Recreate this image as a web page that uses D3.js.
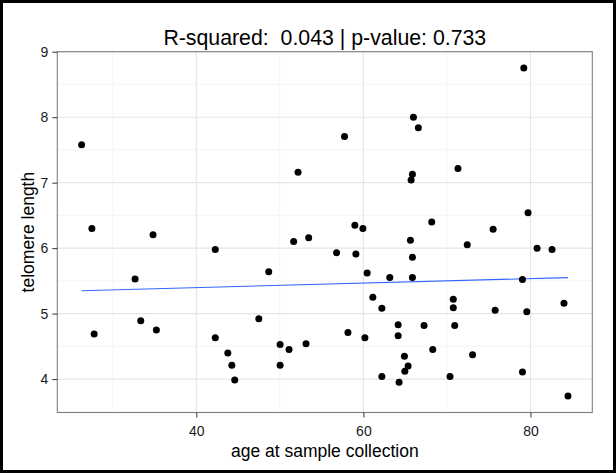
<!DOCTYPE html>
<html>
<head>
<meta charset="utf-8">
<script src="https://cdn.jsdelivr.net/npm/d3@7"></script>
<style>
  html, body { margin: 0; padding: 0; background: #fff; }
  svg { display: block; }
  text { font-family: "Liberation Sans", Arial, sans-serif; }
</style>
</head>
<body>
<svg id="chart" width="616" height="473"></svg>
<script>
// ---- data ----
const ages = [26.27, 27.5, 27.77, 32.67, 33.35, 34.82, 35.22, 42.27, 42.27, 43.77, 44.25, 44.6,
  48.67, 47.48, 50.03, 51.1, 50.03, 51.65, 52.18, 53.45, 53.13, 56.79, 57.74, 58.15, 58.98, 59.1,
  59.94, 60.18, 60.45, 61.13, 62.21, 62.21, 63.16, 64.16, 64.16, 64.27, 64.91, 65.35, 64.96, 65.63,
  65.87, 65.87, 65.99, 66.58, 65.87, 65.71, 68.18, 67.26, 68.3, 79.2, 71.32, 75.53, 72.43, 79.71,
  80.79, 82.58, 79.04, 70.76, 70.76, 70.93, 75.77, 79.56, 84.01, 73.07, 70.37, 79.04, 84.49];
const telomere = [7.58, 6.30, 4.69, 5.53, 4.89, 6.205, 4.75, 5.98, 4.63, 4.40, 4.21, 3.985,
  5.64, 4.92, 4.53, 4.45, 4.21, 6.10, 7.16, 6.16, 4.54, 5.93, 7.705, 4.71, 6.35, 5.91,
  6.30, 4.63, 5.62, 5.25, 5.08, 4.04, 5.55, 4.83, 4.66, 3.95, 4.35, 4.20, 4.12, 6.12,
  5.86, 5.55, 8.0, 7.84, 7.13, 7.04, 6.40, 4.82, 4.45, 8.75, 7.215, 6.29, 6.05, 6.54,
  6.0, 5.98, 5.52, 5.22, 5.09, 4.82, 5.05, 5.03, 5.16, 4.37, 4.04, 4.11, 3.74];
const fitAge = [26.27, 84.49];
const fitTelomere = [5.35, 5.55];
const xTicks = [40, 60, 80];
const xMinorTicks = [30, 50, 70];
const yTicks = [4, 5, 6, 7, 8, 9];
const yMinorTicks = [3.5, 4.5, 5.5, 6.5, 7.5, 8.5];
const titleText = "R-squared:  0.043 | p-value: 0.733";
const xLabel = "age at sample collection";
const yLabel = "telomere length";

// ---- layout ----
const W = 616, H = 473;
const panel = { left: 57.3, right: 592.3, top: 51.7, bottom: 412.5 };

const svg = d3.select("#chart");

function expand(ext, f) {
  const d = (ext[1] - ext[0]) * f;
  return [ext[0] - d, ext[1] + d];
}

const x = d3.scaleLinear().domain(expand(d3.extent(ages), 0.05)).range([panel.left, panel.right]);
const y = d3.scaleLinear().domain(expand(d3.extent(telomere), 0.05)).range([panel.bottom, panel.top]);

// background
svg.append("rect").attr("x", 0).attr("y", 0).attr("width", W).attr("height", H).attr("fill", "#fff");

const g = svg.append("g");

// minor grid
g.selectAll("line.xminor").data(xMinorTicks).enter().append("line")
  .attr("x1", d => x(d)).attr("x2", d => x(d))
  .attr("y1", panel.top).attr("y2", panel.bottom)
  .attr("stroke", "#f5f5f5").attr("stroke-width", 1);
g.selectAll("line.yminor").data(yMinorTicks.filter(v => y(v) <= panel.bottom + 0.5)).enter().append("line")
  .attr("x1", panel.left).attr("x2", panel.right)
  .attr("y1", d => y(d)).attr("y2", d => y(d))
  .attr("stroke", "#f5f5f5").attr("stroke-width", 1);

// major grid
g.selectAll("line.xmajor").data(xTicks).enter().append("line")
  .attr("x1", d => x(d)).attr("x2", d => x(d))
  .attr("y1", panel.top).attr("y2", panel.bottom)
  .attr("stroke", "#e5e5e5").attr("stroke-width", 1.1);
g.selectAll("line.ymajor").data(yTicks).enter().append("line")
  .attr("x1", panel.left).attr("x2", panel.right)
  .attr("y1", d => y(d)).attr("y2", d => y(d))
  .attr("stroke", "#e5e5e5").attr("stroke-width", 1.1);

// fit line
const fit = fitAge.map((a, i) => [a, fitTelomere[i]]);
g.append("path")
  .datum(fit)
  .attr("d", d3.line().x(d => x(d[0])).y(d => y(d[1])))
  .attr("fill", "none").attr("stroke", "#3366FF").attr("stroke-width", 1.1);

// points
const pts = ages.map((a, i) => [a, telomere[i]]);
g.selectAll("circle.pt").data(pts).enter().append("circle")
  .attr("cx", d => x(d[0])).attr("cy", d => y(d[1]))
  .attr("r", 3.5).attr("fill", "#000");

// panel border
g.append("rect")
  .attr("x", panel.left).attr("y", panel.top)
  .attr("width", panel.right - panel.left).attr("height", panel.bottom - panel.top)
  .attr("fill", "none").attr("stroke", "#7f7f7f").attr("stroke-width", 1.1);

// axes
const xAxis = d3.axisBottom(x).tickValues(xTicks).tickSize(5).tickPadding(9).tickFormat(d3.format("d"));
const xa = svg.append("g").attr("transform", `translate(0,${panel.bottom})`).call(xAxis);
xa.select(".domain").remove();
xa.selectAll(".tick line").attr("stroke", "#333");
xa.selectAll(".tick text").attr("font-size", 14).attr("fill", "#1a1a1a")
  .attr("font-family", "Liberation Sans, Arial, sans-serif");

const yAxis = d3.axisLeft(y).tickValues(yTicks).tickSize(5).tickPadding(4).tickFormat(d3.format("d"));
const ya = svg.append("g").attr("transform", `translate(${panel.left},0)`).call(yAxis);
ya.select(".domain").remove();
ya.selectAll(".tick line").attr("stroke", "#333");
ya.selectAll(".tick text").attr("font-size", 14).attr("fill", "#1a1a1a")
  .attr("font-family", "Liberation Sans, Arial, sans-serif");

// title
svg.append("text")
  .attr("x", (panel.left + panel.right) / 2).attr("y", 45)
  .attr("text-anchor", "middle").attr("font-size", 21.3).attr("fill", "#000")
  .style("white-space", "pre")
  .attr("xml:space", "preserve")
  .text(titleText);

// axis titles
svg.append("text")
  .attr("x", (panel.left + panel.right) / 2).attr("y", 457)
  .attr("text-anchor", "middle").attr("font-size", 17.5).attr("fill", "#000")
  .text(xLabel);

svg.append("text")
  .attr("transform", `translate(34,${(panel.top + panel.bottom) / 2}) rotate(-90)`)
  .attr("text-anchor", "middle").attr("font-size", 17.5).attr("fill", "#000")
  .text(yLabel);

// outer frame
svg.append("rect")
  .attr("x", 1.5).attr("y", 1.5).attr("width", W - 3).attr("height", H - 3)
  .attr("fill", "none").attr("stroke", "#000").attr("stroke-width", 3);
</script>
</body>
</html>
